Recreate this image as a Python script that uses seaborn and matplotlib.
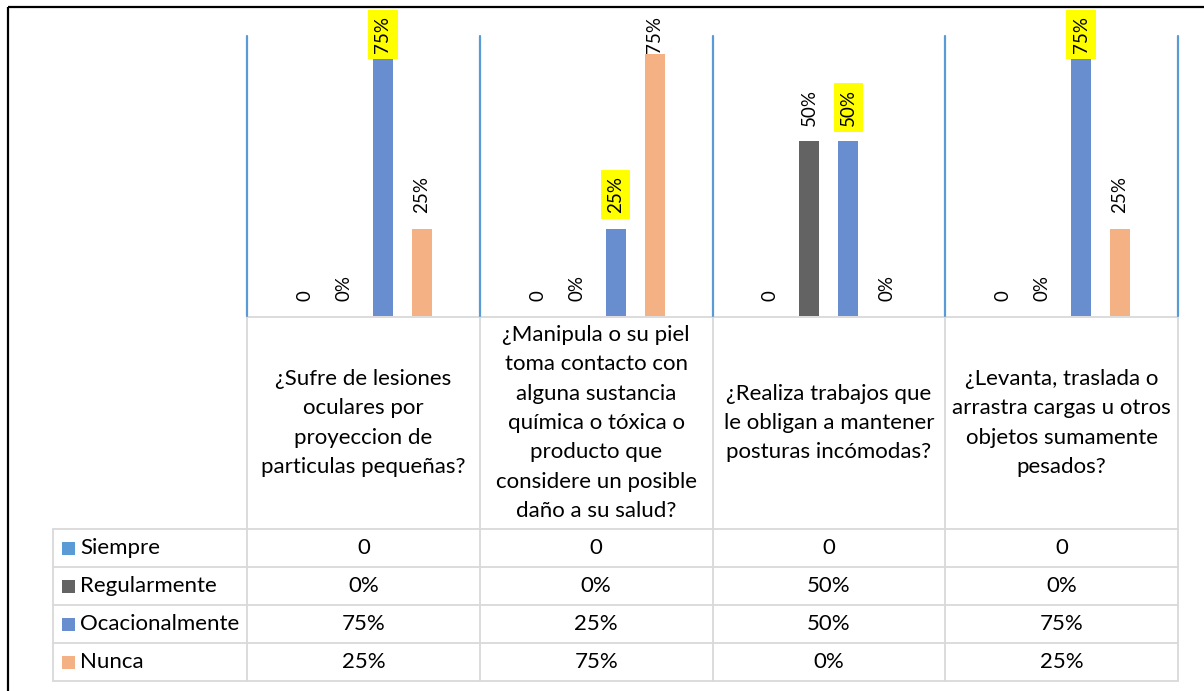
import matplotlib
matplotlib.use("Agg")
import matplotlib.pyplot as plt
from matplotlib.patches import Rectangle
import seaborn as sns
import pandas as pd

# ---------------- data ----------------
categories = [
    "¿Sufre de lesiones\noculares por\nproyeccion de\nparticulas pequeñas?",
    "¿Manipula o su piel\ntoma contacto con\nalguna sustancia\nquímica o tóxica o\nproducto que\nconsidere un posible\ndaño a su salud?",
    "¿Realiza trabajos que\nle obligan a mantener\nposturas incómodas?",
    "¿Levanta, traslada o\narrastra cargas u otros\nobjetos sumamente\npesados?",
]
series = ["Siempre", "Regularmente", "Ocacionalmente", "Nunca"]
siempre = [0, 0, 0, 0]
regularmente = [0.0, 0.0, 0.50, 0.0]
ocacionalmente = [0.75, 0.25, 0.50, 0.75]
nunca = [0.25, 0.75, 0.0, 0.25]
values = [siempre, regularmente, ocacionalmente, nunca]
# Siempre is shown as a plain number, the others as percentages
formats = ["{:g}", "{:.0%}", "{:.0%}", "{:.0%}"]
colors = ["#5B9BD5", "#636363", "#698ED0", "#F4B183"]
highlighted = "Ocacionalmente"

rows = []
for s, vals in zip(series, values):
    for c, v in zip(categories, vals):
        rows.append({"categoria": c, "serie": s, "valor": v})
df = pd.DataFrame(rows)

# ---------------- figure ----------------
sns.set_theme(style="white")
plt.rcParams["font.family"] = ["Lato", "DejaVu Sans"]

W, H = 1204, 691
fig = plt.figure(figsize=(W / 100, H / 100), dpi=100)
fig.patch.set_facecolor("white")

tab = fig.add_axes([0, 0, 1, 1], zorder=0)
tab.set_xlim(0, W)
tab.set_ylim(H, 0)
tab.axis("off")

px_left, px_right, px_top, px_bottom = 247, 1178, 36, 316
ax = fig.add_axes([px_left / W, 1 - px_bottom / H,
                   (px_right - px_left) / W, (px_bottom - px_top) / H], zorder=2)
ax.patch.set_alpha(0)

sns.barplot(data=df, x="categoria", y="valor", hue="serie",
            order=categories, hue_order=series, palette=colors,
            width=0.67, gap=0.49, saturation=1, linewidth=0,
            errorbar=None, legend=False, ax=ax)
ax.set_ylim(0, 0.8)
ax.set_xlim(-0.5, len(categories) - 0.5)
ax.set_xticks([])
ax.set_yticks([])
ax.set_xlabel("")
ax.set_ylabel("")
for sp in ax.spines.values():
    sp.set_visible(False)

blue_line = "#5B9BD5"
for k in range(len(categories) + 1):
    ax.axvline(k - 0.5, color=blue_line, lw=1.6, clip_on=False, zorder=0)

label_fs = 13.5
for cont, name, vals, fmt in zip(ax.containers, series, values, formats):
    labs = [fmt.format(v) for v in vals]
    kw = {}
    if name == highlighted:
        kw["bbox"] = dict(boxstyle="square,pad=0.33", fc="#FFFF00", ec="none")
    anns = ax.bar_label(cont, labels=labs, rotation=90, padding=11,
                        fontsize=label_fs, color="black", **kw)
    for ann, v in zip(anns, vals):
        ann.set_clip_on(False)
        if v >= 0.7:
            ann.xyann = (0, 0.5)

# ---------------- data table ----------------
gray = "#D9D9D9"
lw_t = 1.3
to_tab = ax.transData + tab.transData.inverted()
col_edges = [to_tab.transform((k - 0.5, 0))[0] for k in range(len(categories) + 1)]
col_centers = [to_tab.transform((k, 0))[0] for k in range(len(categories))]

y_head_top = 317
row_edges = [529, 567, 605, 643, 681]
legend_left = 53

tab.plot([col_edges[0], col_edges[-1]], [y_head_top, y_head_top], color=gray, lw=lw_t)
for y in row_edges:
    tab.plot([legend_left, col_edges[-1]], [y, y], color=gray, lw=lw_t)
for x in col_edges:
    tab.plot([x, x], [y_head_top, row_edges[-1]], color=gray, lw=lw_t)
tab.plot([legend_left, legend_left], [row_edges[0], row_edges[-1]], color=gray, lw=lw_t)

table_fs = 16
head_linespacing = 1.59
head_center = (y_head_top + row_edges[0]) / 2
for xc, cat in zip(col_centers, categories):
    tab.text(xc, head_center, cat, ha="center", va="center", fontsize=table_fs,
             linespacing=head_linespacing, color="black")

for i, (name, vals, fmt, col) in enumerate(zip(series, values, formats, colors)):
    yc = (row_edges[i] + row_edges[i + 1]) / 2
    tab.add_patch(Rectangle((62, yc - 6.5), 13, 13, facecolor=col, edgecolor="none"))
    tab.text(80, yc, name, ha="left", va="center", fontsize=table_fs, color="black")
    for xc, v in zip(col_centers, vals):
        tab.text(xc, yc, fmt.format(v), ha="center", va="center",
                 fontsize=table_fs, color="black")

# outer frame (top and left edges visible)
tab.plot([7.5, W], [6.5, 6.5], color="black", lw=1.6, solid_capstyle="butt")
tab.plot([7.5, 7.5], [6.5, H], color="black", lw=1.6, solid_capstyle="butt")

fig.savefig("out.png", dpi=100, facecolor="white")
